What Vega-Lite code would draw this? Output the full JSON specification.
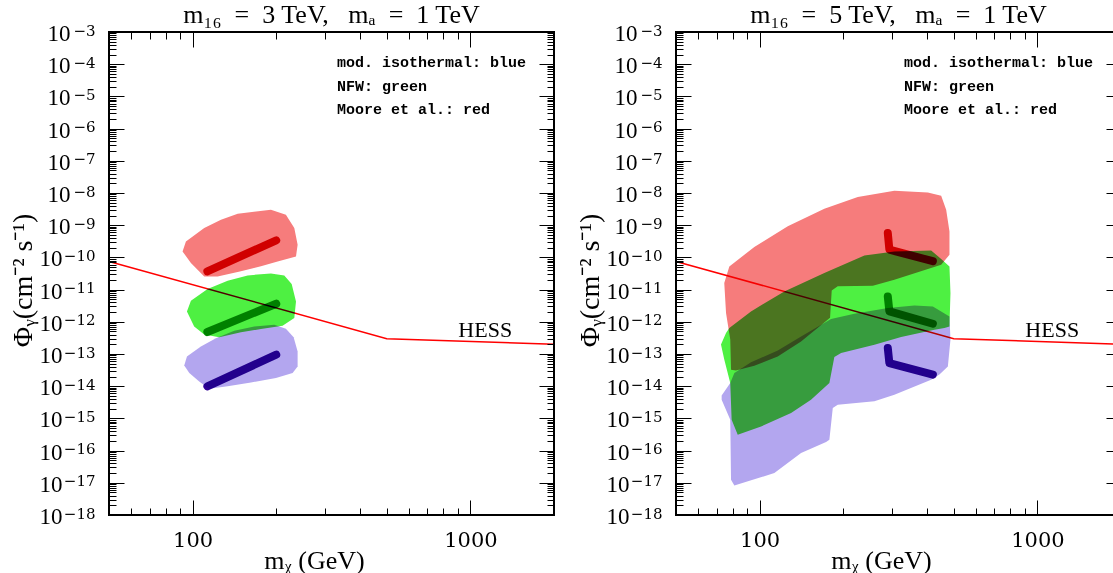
{
  "$schema": "https://vega.github.io/schema/vega-lite/v6.json",
  "padding": {"left": 8, "top": 0, "right": 0, "bottom": 0},
  "background": "white",
  "spacing": 122,
  "bounds": "flush",
  "datasets": {
    "hess": [{"x": 50, "y": 7.5e-11}, {"x": 500, "y": 3e-13}, {"x": 2000, "y": 2e-13}],
    "blobs": [
      {"panel": "a", "model": "moore", "i": 1, "x": 92.0, "y": 1.53e-10},
      {"panel": "a", "model": "moore", "i": 2, "x": 94.6, "y": 3.14e-10},
      {"panel": "a", "model": "moore", "i": 3, "x": 110.1, "y": 8.2e-10},
      {"panel": "a", "model": "moore", "i": 4, "x": 126.5, "y": 1.48e-9},
      {"panel": "a", "model": "moore", "i": 5, "x": 145.3, "y": 2.28e-9},
      {"panel": "a", "model": "moore", "i": 6, "x": 191.4, "y": 3.03e-9},
      {"panel": "a", "model": "moore", "i": 7, "x": 216.7, "y": 2.12e-9},
      {"panel": "a", "model": "moore", "i": 8, "x": 232.3, "y": 8.2e-10},
      {"panel": "a", "model": "moore", "i": 9, "x": 238.8, "y": 2.48e-10},
      {"panel": "a", "model": "moore", "i": 10, "x": 235.6, "y": 1.07e-10},
      {"panel": "a", "model": "moore", "i": 11, "x": 202.3, "y": 7.5e-11},
      {"panel": "a", "model": "moore", "i": 12, "x": 176.2, "y": 5.3e-11},
      {"panel": "a", "model": "moore", "i": 13, "x": 149.3, "y": 3.7e-11},
      {"panel": "a", "model": "moore", "i": 14, "x": 123.0, "y": 2.57e-11},
      {"panel": "a", "model": "moore", "i": 15, "x": 110.1, "y": 2.57e-11},
      {"panel": "a", "model": "moore", "i": 16, "x": 98.6, "y": 6.7e-11},
      {"panel": "a", "model": "nfw", "i": 1, "x": 95.4, "y": 2.1e-12},
      {"panel": "a", "model": "nfw", "i": 2, "x": 98.6, "y": 4.5e-12},
      {"panel": "a", "model": "nfw", "i": 3, "x": 113.2, "y": 1.04e-11},
      {"panel": "a", "model": "nfw", "i": 4, "x": 133.7, "y": 1.89e-11},
      {"panel": "a", "model": "nfw", "i": 5, "x": 157.8, "y": 2.76e-11},
      {"panel": "a", "model": "nfw", "i": 6, "x": 191.4, "y": 3.18e-11},
      {"panel": "a", "model": "nfw", "i": 7, "x": 213.8, "y": 2.76e-11},
      {"panel": "a", "model": "nfw", "i": 8, "x": 227.3, "y": 1.49e-11},
      {"panel": "a", "model": "nfw", "i": 9, "x": 235.6, "y": 4.3e-12},
      {"panel": "a", "model": "nfw", "i": 10, "x": 232.3, "y": 1.31e-12},
      {"panel": "a", "model": "nfw", "i": 11, "x": 210.8, "y": 7.6e-13},
      {"panel": "a", "model": "nfw", "i": 12, "x": 176.2, "y": 6.0e-13},
      {"panel": "a", "model": "nfw", "i": 13, "x": 149.3, "y": 4.7e-13},
      {"panel": "a", "model": "nfw", "i": 14, "x": 124.7, "y": 3.3e-13},
      {"panel": "a", "model": "nfw", "i": 15, "x": 110.1, "y": 4.0e-13},
      {"panel": "a", "model": "nfw", "i": 16, "x": 101.3, "y": 7.2e-13},
      {"panel": "a", "model": "iso", "i": 1, "x": 93.3, "y": 4.4e-14},
      {"panel": "a", "model": "iso", "i": 2, "x": 95.4, "y": 8.4e-14},
      {"panel": "a", "model": "iso", "i": 3, "x": 107.1, "y": 1.72e-13},
      {"panel": "a", "model": "iso", "i": 4, "x": 121.3, "y": 3.1e-13},
      {"panel": "a", "model": "iso", "i": 5, "x": 141.2, "y": 5.3e-13},
      {"panel": "a", "model": "iso", "i": 6, "x": 166.7, "y": 7.2e-13},
      {"panel": "a", "model": "iso", "i": 7, "x": 196.8, "y": 8.1e-13},
      {"panel": "a", "model": "iso", "i": 8, "x": 216.7, "y": 6.1e-13},
      {"panel": "a", "model": "iso", "i": 9, "x": 231.0, "y": 3.3e-13},
      {"panel": "a", "model": "iso", "i": 10, "x": 238.8, "y": 1.2e-13},
      {"panel": "a", "model": "iso", "i": 11, "x": 238.8, "y": 4.1e-14},
      {"panel": "a", "model": "iso", "i": 12, "x": 229.1, "y": 2.57e-14},
      {"panel": "a", "model": "iso", "i": 13, "x": 199.5, "y": 1.8e-14},
      {"panel": "a", "model": "iso", "i": 14, "x": 162.2, "y": 1.31e-14},
      {"panel": "a", "model": "iso", "i": 15, "x": 133.7, "y": 9.9e-15},
      {"panel": "a", "model": "iso", "i": 16, "x": 114.8, "y": 8.4e-15},
      {"panel": "a", "model": "iso", "i": 17, "x": 105.6, "y": 1.41e-14},
      {"panel": "a", "model": "iso", "i": 18, "x": 97.3, "y": 2.57e-14},
      {"panel": "b", "model": "moore", "i": 1, "x": 77.8, "y": 5.25e-11},
      {"panel": "b", "model": "moore", "i": 2, "x": 95.7, "y": 2.1e-10},
      {"panel": "b", "model": "moore", "i": 3, "x": 126.3, "y": 9.2e-10},
      {"panel": "b", "model": "moore", "i": 4, "x": 171.0, "y": 3.25e-9},
      {"panel": "b", "model": "moore", "i": 5, "x": 225.6, "y": 7.5e-9},
      {"panel": "b", "model": "moore", "i": 6, "x": 305.6, "y": 1.18e-8},
      {"panel": "b", "model": "moore", "i": 7, "x": 403.3, "y": 1.04e-8},
      {"panel": "b", "model": "moore", "i": 8, "x": 450.4, "y": 8.2e-9},
      {"panel": "b", "model": "moore", "i": 9, "x": 469.5, "y": 3.0e-9},
      {"panel": "b", "model": "moore", "i": 10, "x": 482.5, "y": 6.4e-10},
      {"panel": "b", "model": "moore", "i": 11, "x": 482.5, "y": 1.21e-10},
      {"panel": "b", "model": "moore", "i": 12, "x": 450.4, "y": 5.9e-11},
      {"panel": "b", "model": "moore", "i": 13, "x": 305.6, "y": 2.03e-11},
      {"panel": "b", "model": "moore", "i": 14, "x": 255.6, "y": 1.32e-11},
      {"panel": "b", "model": "moore", "i": 15, "x": 191.1, "y": 1.26e-11},
      {"panel": "b", "model": "moore", "i": 16, "x": 181.8, "y": 9.4e-12},
      {"panel": "b", "model": "moore", "i": 17, "x": 179.3, "y": 1.34e-12},
      {"panel": "b", "model": "moore", "i": 18, "x": 141.0, "y": 2.46e-13},
      {"panel": "b", "model": "moore", "i": 19, "x": 116.2, "y": 8.4e-14},
      {"panel": "b", "model": "moore", "i": 20, "x": 95.7, "y": 4.3e-14},
      {"panel": "b", "model": "moore", "i": 21, "x": 82.2, "y": 3.1e-14},
      {"panel": "b", "model": "moore", "i": 22, "x": 78.9, "y": 3.25e-14},
      {"panel": "b", "model": "moore", "i": 23, "x": 78.4, "y": 2.8e-13},
      {"panel": "b", "model": "moore", "i": 24, "x": 75.7, "y": 1.87e-12},
      {"panel": "b", "model": "moore", "i": 25, "x": 74.6, "y": 1.6e-11},
      {"panel": "b", "model": "nfw", "i": 1, "x": 77.8, "y": 6.4e-13},
      {"panel": "b", "model": "nfw", "i": 2, "x": 93.1, "y": 2.1e-12},
      {"panel": "b", "model": "nfw", "i": 3, "x": 122.7, "y": 8.8e-12},
      {"panel": "b", "model": "nfw", "i": 4, "x": 171.0, "y": 3.3e-11},
      {"panel": "b", "model": "nfw", "i": 5, "x": 238.4, "y": 1.15e-10},
      {"panel": "b", "model": "nfw", "i": 6, "x": 305.6, "y": 1.53e-10},
      {"panel": "b", "model": "nfw", "i": 7, "x": 414.5, "y": 1.65e-10},
      {"panel": "b", "model": "nfw", "i": 8, "x": 450.4, "y": 8.9e-11},
      {"panel": "b", "model": "nfw", "i": 9, "x": 482.5, "y": 5.25e-11},
      {"panel": "b", "model": "nfw", "i": 10, "x": 486.5, "y": 7.8e-12},
      {"panel": "b", "model": "nfw", "i": 11, "x": 482.5, "y": 7.2e-13},
      {"panel": "b", "model": "nfw", "i": 12, "x": 462.8, "y": 6.4e-13},
      {"panel": "b", "model": "nfw", "i": 13, "x": 426.0, "y": 5.7e-13},
      {"panel": "b", "model": "nfw", "i": 14, "x": 323.2, "y": 3.4e-13},
      {"panel": "b", "model": "nfw", "i": 15, "x": 259.0, "y": 1.95e-13},
      {"panel": "b", "model": "nfw", "i": 16, "x": 196.5, "y": 1.07e-13},
      {"panel": "b", "model": "nfw", "i": 17, "x": 185.8, "y": 8.1e-14},
      {"panel": "b", "model": "nfw", "i": 18, "x": 178.3, "y": 1.26e-14},
      {"panel": "b", "model": "nfw", "i": 19, "x": 153.1, "y": 3.8e-15},
      {"panel": "b", "model": "nfw", "i": 20, "x": 129.8, "y": 1.47e-15},
      {"panel": "b", "model": "nfw", "i": 21, "x": 101.2, "y": 5.6e-16},
      {"panel": "b", "model": "nfw", "i": 22, "x": 83.4, "y": 3.1e-16},
      {"panel": "b", "model": "nfw", "i": 23, "x": 79.3, "y": 9.1e-16},
      {"panel": "b", "model": "nfw", "i": 24, "x": 78.4, "y": 1.26e-14},
      {"panel": "b", "model": "nfw", "i": 25, "x": 74.6, "y": 6.7e-14},
      {"panel": "b", "model": "nfw", "i": 26, "x": 72.6, "y": 1.96e-13},
      {"panel": "b", "model": "nfw", "i": 27, "x": 75.7, "y": 4.5e-13},
      {"panel": "b", "model": "iso", "i": 1, "x": 73.0, "y": 5.1e-15},
      {"panel": "b", "model": "iso", "i": 2, "x": 78.4, "y": 1.26e-14},
      {"panel": "b", "model": "iso", "i": 3, "x": 81.1, "y": 2.57e-14},
      {"panel": "b", "model": "iso", "i": 4, "x": 93.1, "y": 5.5e-14},
      {"panel": "b", "model": "iso", "i": 5, "x": 116.2, "y": 1.29e-13},
      {"panel": "b", "model": "iso", "i": 6, "x": 141.0, "y": 3.5e-13},
      {"panel": "b", "model": "iso", "i": 7, "x": 180.8, "y": 1.22e-12},
      {"panel": "b", "model": "iso", "i": 8, "x": 219.3, "y": 1.79e-12},
      {"panel": "b", "model": "iso", "i": 9, "x": 289.4, "y": 2.7e-12},
      {"panel": "b", "model": "iso", "i": 10, "x": 360.8, "y": 3.2e-12},
      {"panel": "b", "model": "iso", "i": 11, "x": 420.4, "y": 3.0e-12},
      {"panel": "b", "model": "iso", "i": 12, "x": 450.4, "y": 2.1e-12},
      {"panel": "b", "model": "iso", "i": 13, "x": 482.5, "y": 1.47e-12},
      {"panel": "b", "model": "iso", "i": 14, "x": 486.5, "y": 2.8e-13},
      {"panel": "b", "model": "iso", "i": 15, "x": 476.1, "y": 4.1e-14},
      {"panel": "b", "model": "iso", "i": 16, "x": 444.0, "y": 2.3e-14},
      {"panel": "b", "model": "iso", "i": 17, "x": 414.5, "y": 1.59e-14},
      {"panel": "b", "model": "iso", "i": 18, "x": 305.6, "y": 5.4e-15},
      {"panel": "b", "model": "iso", "i": 19, "x": 259.0, "y": 3.4e-15},
      {"panel": "b", "model": "iso", "i": 20, "x": 191.1, "y": 2.66e-15},
      {"panel": "b", "model": "iso", "i": 21, "x": 183.4, "y": 2.1e-15},
      {"panel": "b", "model": "iso", "i": 22, "x": 178.3, "y": 2.18e-16},
      {"panel": "b", "model": "iso", "i": 23, "x": 173.5, "y": 1.85e-16},
      {"panel": "b", "model": "iso", "i": 24, "x": 141.0, "y": 8.4e-17},
      {"panel": "b", "model": "iso", "i": 25, "x": 113.0, "y": 2.0e-17},
      {"panel": "b", "model": "iso", "i": 26, "x": 81.1, "y": 8.3e-18},
      {"panel": "b", "model": "iso", "i": 27, "x": 78.9, "y": 1.25e-17},
      {"panel": "b", "model": "iso", "i": 28, "x": 78.4, "y": 9.1e-16},
      {"panel": "b", "model": "iso", "i": 29, "x": 73.0, "y": 3.8e-15}
    ],
    "lines": [
      {"panel": "a", "model": "moore", "i": 1, "x": 113, "y": 3.7e-11},
      {"panel": "a", "model": "moore", "i": 2, "x": 200, "y": 3.4e-10},
      {"panel": "a", "model": "nfw", "i": 1, "x": 113, "y": 4.8e-13},
      {"panel": "a", "model": "nfw", "i": 2, "x": 200, "y": 3.65e-12},
      {"panel": "a", "model": "iso", "i": 1, "x": 113, "y": 9.9e-15},
      {"panel": "a", "model": "iso", "i": 2, "x": 200, "y": 9.5e-14},
      {"panel": "b", "model": "moore", "i": 1, "x": 289.4, "y": 5.7e-10},
      {"panel": "b", "model": "moore", "i": 2, "x": 293.2, "y": 1.73e-10},
      {"panel": "b", "model": "moore", "i": 3, "x": 420.4, "y": 7.6e-11},
      {"panel": "b", "model": "nfw", "i": 1, "x": 289.4, "y": 6.1e-12},
      {"panel": "b", "model": "nfw", "i": 2, "x": 293.2, "y": 2.1e-12},
      {"panel": "b", "model": "nfw", "i": 3, "x": 420.4, "y": 8.7e-13},
      {"panel": "b", "model": "iso", "i": 1, "x": 289.4, "y": 1.53e-13},
      {"panel": "b", "model": "iso", "i": 2, "x": 293.2, "y": 5.2e-14},
      {"panel": "b", "model": "iso", "i": 3, "x": 420.4, "y": 2.3e-14}
    ]
  },
  "hconcat": [
    {
      "width": 445,
      "height": 483,
      "title": {"text": "m₁₆\u00a0\u00a0=\u00a0\u00a03 TeV,\u00a0\u00a0\u00a0mₐ\u00a0\u00a0=\u00a0\u00a01 TeV", "frame": "group", "font": "Liberation Serif", "fontSize": 26, "fontWeight": "normal", "baseline": "alphabetic", "offset": -26, "color": "black"},
      "resolve": {"axis": {"x": "independent", "y": "independent"}},
      "layer": [
        {
          "data": {"name": "hess"},
          "mark": {"type": "line", "color": "#ff0000", "strokeWidth": 1.5, "blend": "multiply"},
          "encoding": {
            "x": {"field": "x", "type": "quantitative", "scale": {"type": "log", "domain": [50, 2000], "nice": false}, "axis": {"orient": "bottom", "values": [100, 1000], "format": "d", "ticks": false, "labelPadding": 14, "labelFont": "DejaVu Serif", "labelFontSize": 21, "labelFlush": false, "labelOverlap": false, "title": "mᵪ (GeV)", "titleFont": "Liberation Serif", "titleFontSize": 26, "titleFontWeight": "normal", "titleX": 205, "titleY": 45, "titleBaseline": "middle"}},
            "y": {"field": "y", "type": "quantitative", "scale": {"type": "log", "domain": [1e-18, 1e-3], "nice": false}, "axis": {"orient": "left", "values": [1e-18, 1e-17, 1e-16, 1e-15, 1e-14, 1e-13, 1e-12, 1e-11, 1e-10, 1e-9, 1e-8, 1e-7, 1e-6, 1e-5, 1e-4, 1e-3], "labelExpr": "'10'", "ticks": false, "labelPadding": {"condition": {"test": "datum.value < 5e-10", "value": 47}, "value": 39}, "labelFont": "Liberation Serif", "labelFontSize": 23, "labelOffset": 1.5, "labelBaseline": "middle", "labelOverlap": false, "labelFlush": false, "title": "Φᵧ(cm⁻² s⁻¹)", "titleFont": "Liberation Serif", "titleFontSize": 28, "titleFontWeight": "normal", "titleX": -86, "titleY": 248, "titleBaseline": "middle"}}
          }
        },
        {
          "data": {"name": "blobs"},
          "transform": [{"filter": "datum.panel == 'a' && datum.model == 'moore'"}],
          "mark": {"type": "line", "interpolate": "linear-closed", "fill": "#f67c7c", "strokeOpacity": 0, "strokeWidth": 0, "blend": "multiply"},
          "encoding": {
            "x": {"field": "x", "type": "quantitative", "axis": {"orient": "bottom", "values": [100, 1000], "labels": false, "tickSize": -15, "title": null}},
            "y": {"field": "y", "type": "quantitative", "axis": {"orient": "left", "values": [1e-18, 1e-17, 1e-16, 1e-15, 1e-14, 1e-13, 1e-12, 1e-11, 1e-10, 1e-9, 1e-8, 1e-7, 1e-6, 1e-5, 1e-4, 1e-3], "labelExpr": "'−' + (-round(log(datum.value)/LN10))", "ticks": false, "labelPadding": 14, "labelFont": "DejaVu Serif", "labelFontSize": 15, "labelOffset": -2, "labelBaseline": "middle", "labelOverlap": false, "labelFlush": false, "title": null}},
            "order": {"field": "i", "type": "quantitative"}
          }
        },
        {
          "data": {"name": "blobs"},
          "transform": [{"filter": "datum.panel == 'a' && datum.model == 'nfw'"}],
          "mark": {"type": "line", "interpolate": "linear-closed", "fill": "#4ef042", "strokeOpacity": 0, "strokeWidth": 0, "blend": "multiply"},
          "encoding": {
            "x": {"field": "x", "type": "quantitative", "axis": {"orient": "bottom", "values": [60, 70, 80, 90, 200, 300, 400, 500, 600, 700, 800, 900], "labels": false, "tickSize": -7, "title": null}},
            "y": {"field": "y", "type": "quantitative", "axis": {"orient": "left", "values": [1e-18, 1e-17, 1e-16, 1e-15, 1e-14, 1e-13, 1e-12, 1e-11, 1e-10, 1e-9, 1e-8, 1e-7, 1e-6, 1e-5, 1e-4, 1e-3], "labels": false, "tickSize": -15, "title": null}},
            "order": {"field": "i", "type": "quantitative"}
          }
        },
        {
          "data": {"name": "blobs"},
          "transform": [{"filter": "datum.panel == 'a' && datum.model == 'iso'"}],
          "mark": {"type": "line", "interpolate": "linear-closed", "fill": "#b3a6ef", "strokeOpacity": 0, "strokeWidth": 0, "blend": "multiply"},
          "encoding": {
            "x": {"field": "x", "type": "quantitative", "axis": {"orient": "top", "values": [100, 1000], "labels": false, "tickSize": -15, "title": null}},
            "y": {"field": "y", "type": "quantitative", "axis": {"orient": "left", "values": [2e-18, 3e-18, 4e-18, 5e-18, 6e-18, 7e-18, 8e-18, 9e-18, 2e-17, 3e-17, 4e-17, 5e-17, 6e-17, 7e-17, 8e-17, 9e-17, 2e-16, 3e-16, 4e-16, 5e-16, 6e-16, 7e-16, 8e-16, 9e-16, 2e-15, 3e-15, 4e-15, 5e-15, 6e-15, 7e-15, 8e-15, 9e-15, 2e-14, 3e-14, 4e-14, 5e-14, 6e-14, 7e-14, 8e-14, 9e-14, 2e-13, 3e-13, 4e-13, 5e-13, 6e-13, 7e-13, 8e-13, 9e-13, 2e-12, 3e-12, 4e-12, 5e-12, 6e-12, 7e-12, 8e-12, 9e-12, 2e-11, 3e-11, 4e-11, 5e-11, 6e-11, 7e-11, 8e-11, 9e-11, 2e-10, 3e-10, 4e-10, 5e-10, 6e-10, 7e-10, 8e-10, 9e-10, 2e-9, 3e-9, 4e-9, 5e-9, 6e-9, 7e-9, 8e-9, 9e-9, 2e-8, 3e-8, 4e-8, 5e-8, 6e-8, 7e-8, 8e-8, 9e-8, 2e-7, 3e-7, 4e-7, 5e-7, 6e-7, 7e-7, 8e-7, 9e-7, 2e-6, 3e-6, 4e-6, 5e-6, 6e-6, 7e-6, 8e-6, 9e-6, 2e-5, 3e-5, 4e-5, 5e-5, 6e-5, 7e-5, 8e-5, 9e-5, 2e-4, 3e-4, 4e-4, 5e-4, 6e-4, 7e-4, 8e-4, 9e-4], "labels": false, "tickSize": -7, "title": null}},
            "order": {"field": "i", "type": "quantitative"}
          }
        },
        {
          "data": {"name": "lines"},
          "transform": [{"filter": "datum.panel == 'a' && datum.model == 'moore'"}],
          "mark": {"type": "line", "color": "#d80000", "strokeWidth": 8, "strokeCap": "round", "strokeJoin": "round", "blend": "multiply"},
          "encoding": {
            "x": {"field": "x", "type": "quantitative", "axis": {"orient": "top", "values": [60, 70, 80, 90, 200, 300, 400, 500, 600, 700, 800, 900], "labels": false, "tickSize": -7, "title": null}},
            "y": {"field": "y", "type": "quantitative", "axis": {"orient": "right", "values": [1e-18, 1e-17, 1e-16, 1e-15, 1e-14, 1e-13, 1e-12, 1e-11, 1e-10, 1e-9, 1e-8, 1e-7, 1e-6, 1e-5, 1e-4, 1e-3], "labels": false, "tickSize": -15, "title": null}},
            "order": {"field": "i", "type": "quantitative"}
          }
        },
        {
          "data": {"name": "lines"},
          "transform": [{"filter": "datum.panel == 'a' && datum.model == 'nfw'"}],
          "mark": {"type": "line", "color": "#008800", "strokeWidth": 8, "strokeCap": "round", "strokeJoin": "round", "blend": "multiply"},
          "encoding": {
            "x": {"field": "x", "type": "quantitative", "axis": null},
            "y": {"field": "y", "type": "quantitative", "axis": {"orient": "right", "values": [2e-18, 3e-18, 4e-18, 5e-18, 6e-18, 7e-18, 8e-18, 9e-18, 2e-17, 3e-17, 4e-17, 5e-17, 6e-17, 7e-17, 8e-17, 9e-17, 2e-16, 3e-16, 4e-16, 5e-16, 6e-16, 7e-16, 8e-16, 9e-16, 2e-15, 3e-15, 4e-15, 5e-15, 6e-15, 7e-15, 8e-15, 9e-15, 2e-14, 3e-14, 4e-14, 5e-14, 6e-14, 7e-14, 8e-14, 9e-14, 2e-13, 3e-13, 4e-13, 5e-13, 6e-13, 7e-13, 8e-13, 9e-13, 2e-12, 3e-12, 4e-12, 5e-12, 6e-12, 7e-12, 8e-12, 9e-12, 2e-11, 3e-11, 4e-11, 5e-11, 6e-11, 7e-11, 8e-11, 9e-11, 2e-10, 3e-10, 4e-10, 5e-10, 6e-10, 7e-10, 8e-10, 9e-10, 2e-9, 3e-9, 4e-9, 5e-9, 6e-9, 7e-9, 8e-9, 9e-9, 2e-8, 3e-8, 4e-8, 5e-8, 6e-8, 7e-8, 8e-8, 9e-8, 2e-7, 3e-7, 4e-7, 5e-7, 6e-7, 7e-7, 8e-7, 9e-7, 2e-6, 3e-6, 4e-6, 5e-6, 6e-6, 7e-6, 8e-6, 9e-6, 2e-5, 3e-5, 4e-5, 5e-5, 6e-5, 7e-5, 8e-5, 9e-5, 2e-4, 3e-4, 4e-4, 5e-4, 6e-4, 7e-4, 8e-4, 9e-4], "labels": false, "tickSize": -7, "title": null}},
            "order": {"field": "i", "type": "quantitative"}
          }
        },
        {
          "data": {"name": "lines"},
          "transform": [{"filter": "datum.panel == 'a' && datum.model == 'iso'"}],
          "mark": {"type": "line", "color": "#300096", "strokeWidth": 8, "strokeCap": "round", "strokeJoin": "round", "blend": "multiply"},
          "encoding": {
            "x": {"field": "x", "type": "quantitative", "axis": null},
            "y": {"field": "y", "type": "quantitative", "axis": null},
            "order": {"field": "i", "type": "quantitative"}
          }
        },
        {
          "data": {"values": [{}]},
          "mark": {"type": "text", "align": "left", "baseline": "middle", "font": "Liberation Mono", "fontWeight": "bold", "fontSize": 15, "color": "black"},
          "encoding": {"x": {"datum": 331, "type": "quantitative", "axis": null}, "y": {"datum": 1.2e-4, "type": "quantitative", "axis": null}, "text": {"value": "mod. isothermal: blue"}}
        },
        {
          "data": {"values": [{}]},
          "mark": {"type": "text", "align": "left", "baseline": "middle", "font": "Liberation Mono", "fontWeight": "bold", "fontSize": 15, "color": "black"},
          "encoding": {"x": {"datum": 331, "type": "quantitative", "axis": null}, "y": {"datum": 2.15e-5, "type": "quantitative", "axis": null}, "text": {"value": "NFW: green"}}
        },
        {
          "data": {"values": [{}]},
          "mark": {"type": "text", "align": "left", "baseline": "middle", "font": "Liberation Mono", "fontWeight": "bold", "fontSize": 15, "color": "black"},
          "encoding": {"x": {"datum": 331, "type": "quantitative", "axis": null}, "y": {"datum": 4.15e-6, "type": "quantitative", "axis": null}, "text": {"value": "Moore et al.: red"}}
        },
        {
          "data": {"values": [{}]},
          "mark": {"type": "text", "align": "left", "baseline": "middle", "font": "Liberation Serif", "fontSize": 22, "color": "black"},
          "encoding": {"x": {"datum": 905, "type": "quantitative", "axis": null}, "y": {"datum": 5.7e-13, "type": "quantitative", "axis": null}, "text": {"value": "HESS"}}
        }
      ]
    },
    {
      "width": 445,
      "height": 483,
      "title": {"text": "m₁₆\u00a0\u00a0=\u00a0\u00a05 TeV,\u00a0\u00a0\u00a0mₐ\u00a0\u00a0=\u00a0\u00a01 TeV", "frame": "group", "font": "Liberation Serif", "fontSize": 26, "fontWeight": "normal", "baseline": "alphabetic", "offset": -26, "color": "black"},
      "resolve": {"axis": {"x": "independent", "y": "independent"}},
      "layer": [
        {
          "data": {"name": "hess"},
          "mark": {"type": "line", "color": "#ff0000", "strokeWidth": 1.5, "blend": "multiply"},
          "encoding": {
            "x": {"field": "x", "type": "quantitative", "scale": {"type": "log", "domain": [50, 2000], "nice": false}, "axis": {"orient": "bottom", "values": [100, 1000], "format": "d", "ticks": false, "labelPadding": 14, "labelFont": "DejaVu Serif", "labelFontSize": 21, "labelFlush": false, "labelOverlap": false, "title": "mᵪ (GeV)", "titleFont": "Liberation Serif", "titleFontSize": 26, "titleFontWeight": "normal", "titleX": 205, "titleY": 45, "titleBaseline": "middle"}},
            "y": {"field": "y", "type": "quantitative", "scale": {"type": "log", "domain": [1e-18, 1e-3], "nice": false}, "axis": {"orient": "left", "values": [1e-18, 1e-17, 1e-16, 1e-15, 1e-14, 1e-13, 1e-12, 1e-11, 1e-10, 1e-9, 1e-8, 1e-7, 1e-6, 1e-5, 1e-4, 1e-3], "labelExpr": "'10'", "ticks": false, "labelPadding": {"condition": {"test": "datum.value < 5e-10", "value": 47}, "value": 39}, "labelFont": "Liberation Serif", "labelFontSize": 23, "labelOffset": 1.5, "labelBaseline": "middle", "labelOverlap": false, "labelFlush": false, "title": "Φᵧ(cm⁻² s⁻¹)", "titleFont": "Liberation Serif", "titleFontSize": 28, "titleFontWeight": "normal", "titleX": -86, "titleY": 248, "titleBaseline": "middle"}}
          }
        },
        {
          "data": {"name": "blobs"},
          "transform": [{"filter": "datum.panel == 'b' && datum.model == 'moore'"}],
          "mark": {"type": "line", "interpolate": "linear-closed", "fill": "#f67c7c", "strokeOpacity": 0, "strokeWidth": 0, "blend": "multiply"},
          "encoding": {
            "x": {"field": "x", "type": "quantitative", "axis": {"orient": "bottom", "values": [100, 1000], "labels": false, "tickSize": -15, "title": null}},
            "y": {"field": "y", "type": "quantitative", "axis": {"orient": "left", "values": [1e-18, 1e-17, 1e-16, 1e-15, 1e-14, 1e-13, 1e-12, 1e-11, 1e-10, 1e-9, 1e-8, 1e-7, 1e-6, 1e-5, 1e-4, 1e-3], "labelExpr": "'−' + (-round(log(datum.value)/LN10))", "ticks": false, "labelPadding": 14, "labelFont": "DejaVu Serif", "labelFontSize": 15, "labelOffset": -2, "labelBaseline": "middle", "labelOverlap": false, "labelFlush": false, "title": null}},
            "order": {"field": "i", "type": "quantitative"}
          }
        },
        {
          "data": {"name": "blobs"},
          "transform": [{"filter": "datum.panel == 'b' && datum.model == 'nfw'"}],
          "mark": {"type": "line", "interpolate": "linear-closed", "fill": "#4ef042", "strokeOpacity": 0, "strokeWidth": 0, "blend": "multiply"},
          "encoding": {
            "x": {"field": "x", "type": "quantitative", "axis": {"orient": "bottom", "values": [60, 70, 80, 90, 200, 300, 400, 500, 600, 700, 800, 900], "labels": false, "tickSize": -7, "title": null}},
            "y": {"field": "y", "type": "quantitative", "axis": {"orient": "left", "values": [1e-18, 1e-17, 1e-16, 1e-15, 1e-14, 1e-13, 1e-12, 1e-11, 1e-10, 1e-9, 1e-8, 1e-7, 1e-6, 1e-5, 1e-4, 1e-3], "labels": false, "tickSize": -15, "title": null}},
            "order": {"field": "i", "type": "quantitative"}
          }
        },
        {
          "data": {"name": "blobs"},
          "transform": [{"filter": "datum.panel == 'b' && datum.model == 'iso'"}],
          "mark": {"type": "line", "interpolate": "linear-closed", "fill": "#b3a6ef", "strokeOpacity": 0, "strokeWidth": 0, "blend": "multiply"},
          "encoding": {
            "x": {"field": "x", "type": "quantitative", "axis": {"orient": "top", "values": [100, 1000], "labels": false, "tickSize": -15, "title": null}},
            "y": {"field": "y", "type": "quantitative", "axis": {"orient": "left", "values": [2e-18, 3e-18, 4e-18, 5e-18, 6e-18, 7e-18, 8e-18, 9e-18, 2e-17, 3e-17, 4e-17, 5e-17, 6e-17, 7e-17, 8e-17, 9e-17, 2e-16, 3e-16, 4e-16, 5e-16, 6e-16, 7e-16, 8e-16, 9e-16, 2e-15, 3e-15, 4e-15, 5e-15, 6e-15, 7e-15, 8e-15, 9e-15, 2e-14, 3e-14, 4e-14, 5e-14, 6e-14, 7e-14, 8e-14, 9e-14, 2e-13, 3e-13, 4e-13, 5e-13, 6e-13, 7e-13, 8e-13, 9e-13, 2e-12, 3e-12, 4e-12, 5e-12, 6e-12, 7e-12, 8e-12, 9e-12, 2e-11, 3e-11, 4e-11, 5e-11, 6e-11, 7e-11, 8e-11, 9e-11, 2e-10, 3e-10, 4e-10, 5e-10, 6e-10, 7e-10, 8e-10, 9e-10, 2e-9, 3e-9, 4e-9, 5e-9, 6e-9, 7e-9, 8e-9, 9e-9, 2e-8, 3e-8, 4e-8, 5e-8, 6e-8, 7e-8, 8e-8, 9e-8, 2e-7, 3e-7, 4e-7, 5e-7, 6e-7, 7e-7, 8e-7, 9e-7, 2e-6, 3e-6, 4e-6, 5e-6, 6e-6, 7e-6, 8e-6, 9e-6, 2e-5, 3e-5, 4e-5, 5e-5, 6e-5, 7e-5, 8e-5, 9e-5, 2e-4, 3e-4, 4e-4, 5e-4, 6e-4, 7e-4, 8e-4, 9e-4], "labels": false, "tickSize": -7, "title": null}},
            "order": {"field": "i", "type": "quantitative"}
          }
        },
        {
          "data": {"name": "lines"},
          "transform": [{"filter": "datum.panel == 'b' && datum.model == 'moore'"}],
          "mark": {"type": "line", "color": "#d80000", "strokeWidth": 8, "strokeCap": "round", "strokeJoin": "round", "blend": "multiply"},
          "encoding": {
            "x": {"field": "x", "type": "quantitative", "axis": {"orient": "top", "values": [60, 70, 80, 90, 200, 300, 400, 500, 600, 700, 800, 900], "labels": false, "tickSize": -7, "title": null}},
            "y": {"field": "y", "type": "quantitative", "axis": {"orient": "right", "values": [1e-18, 1e-17, 1e-16, 1e-15, 1e-14, 1e-13, 1e-12, 1e-11, 1e-10, 1e-9, 1e-8, 1e-7, 1e-6, 1e-5, 1e-4, 1e-3], "labels": false, "tickSize": -15, "title": null}},
            "order": {"field": "i", "type": "quantitative"}
          }
        },
        {
          "data": {"name": "lines"},
          "transform": [{"filter": "datum.panel == 'b' && datum.model == 'nfw'"}],
          "mark": {"type": "line", "color": "#008800", "strokeWidth": 8, "strokeCap": "round", "strokeJoin": "round", "blend": "multiply"},
          "encoding": {
            "x": {"field": "x", "type": "quantitative", "axis": null},
            "y": {"field": "y", "type": "quantitative", "axis": {"orient": "right", "values": [2e-18, 3e-18, 4e-18, 5e-18, 6e-18, 7e-18, 8e-18, 9e-18, 2e-17, 3e-17, 4e-17, 5e-17, 6e-17, 7e-17, 8e-17, 9e-17, 2e-16, 3e-16, 4e-16, 5e-16, 6e-16, 7e-16, 8e-16, 9e-16, 2e-15, 3e-15, 4e-15, 5e-15, 6e-15, 7e-15, 8e-15, 9e-15, 2e-14, 3e-14, 4e-14, 5e-14, 6e-14, 7e-14, 8e-14, 9e-14, 2e-13, 3e-13, 4e-13, 5e-13, 6e-13, 7e-13, 8e-13, 9e-13, 2e-12, 3e-12, 4e-12, 5e-12, 6e-12, 7e-12, 8e-12, 9e-12, 2e-11, 3e-11, 4e-11, 5e-11, 6e-11, 7e-11, 8e-11, 9e-11, 2e-10, 3e-10, 4e-10, 5e-10, 6e-10, 7e-10, 8e-10, 9e-10, 2e-9, 3e-9, 4e-9, 5e-9, 6e-9, 7e-9, 8e-9, 9e-9, 2e-8, 3e-8, 4e-8, 5e-8, 6e-8, 7e-8, 8e-8, 9e-8, 2e-7, 3e-7, 4e-7, 5e-7, 6e-7, 7e-7, 8e-7, 9e-7, 2e-6, 3e-6, 4e-6, 5e-6, 6e-6, 7e-6, 8e-6, 9e-6, 2e-5, 3e-5, 4e-5, 5e-5, 6e-5, 7e-5, 8e-5, 9e-5, 2e-4, 3e-4, 4e-4, 5e-4, 6e-4, 7e-4, 8e-4, 9e-4], "labels": false, "tickSize": -7, "title": null}},
            "order": {"field": "i", "type": "quantitative"}
          }
        },
        {
          "data": {"name": "lines"},
          "transform": [{"filter": "datum.panel == 'b' && datum.model == 'iso'"}],
          "mark": {"type": "line", "color": "#300096", "strokeWidth": 8, "strokeCap": "round", "strokeJoin": "round", "blend": "multiply"},
          "encoding": {
            "x": {"field": "x", "type": "quantitative", "axis": null},
            "y": {"field": "y", "type": "quantitative", "axis": null},
            "order": {"field": "i", "type": "quantitative"}
          }
        },
        {
          "data": {"values": [{}]},
          "mark": {"type": "text", "align": "left", "baseline": "middle", "font": "Liberation Mono", "fontWeight": "bold", "fontSize": 15, "color": "black"},
          "encoding": {"x": {"datum": 331, "type": "quantitative", "axis": null}, "y": {"datum": 1.2e-4, "type": "quantitative", "axis": null}, "text": {"value": "mod. isothermal: blue"}}
        },
        {
          "data": {"values": [{}]},
          "mark": {"type": "text", "align": "left", "baseline": "middle", "font": "Liberation Mono", "fontWeight": "bold", "fontSize": 15, "color": "black"},
          "encoding": {"x": {"datum": 331, "type": "quantitative", "axis": null}, "y": {"datum": 2.15e-5, "type": "quantitative", "axis": null}, "text": {"value": "NFW: green"}}
        },
        {
          "data": {"values": [{}]},
          "mark": {"type": "text", "align": "left", "baseline": "middle", "font": "Liberation Mono", "fontWeight": "bold", "fontSize": 15, "color": "black"},
          "encoding": {"x": {"datum": 331, "type": "quantitative", "axis": null}, "y": {"datum": 4.15e-6, "type": "quantitative", "axis": null}, "text": {"value": "Moore et al.: red"}}
        },
        {
          "data": {"values": [{}]},
          "mark": {"type": "text", "align": "left", "baseline": "middle", "font": "Liberation Serif", "fontSize": 22, "color": "black"},
          "encoding": {"x": {"datum": 905, "type": "quantitative", "axis": null}, "y": {"datum": 5.7e-13, "type": "quantitative", "axis": null}, "text": {"value": "HESS"}}
        }
      ]
    }
  ],
  "config": {
    "view": {"stroke": "black", "strokeWidth": 2},
    "axis": {"grid": false, "domain": false, "tickColor": "black", "tickWidth": 1, "labelColor": "black", "titleColor": "black"},
    "line": {"strokeWidth": 1.5}
  }
}
